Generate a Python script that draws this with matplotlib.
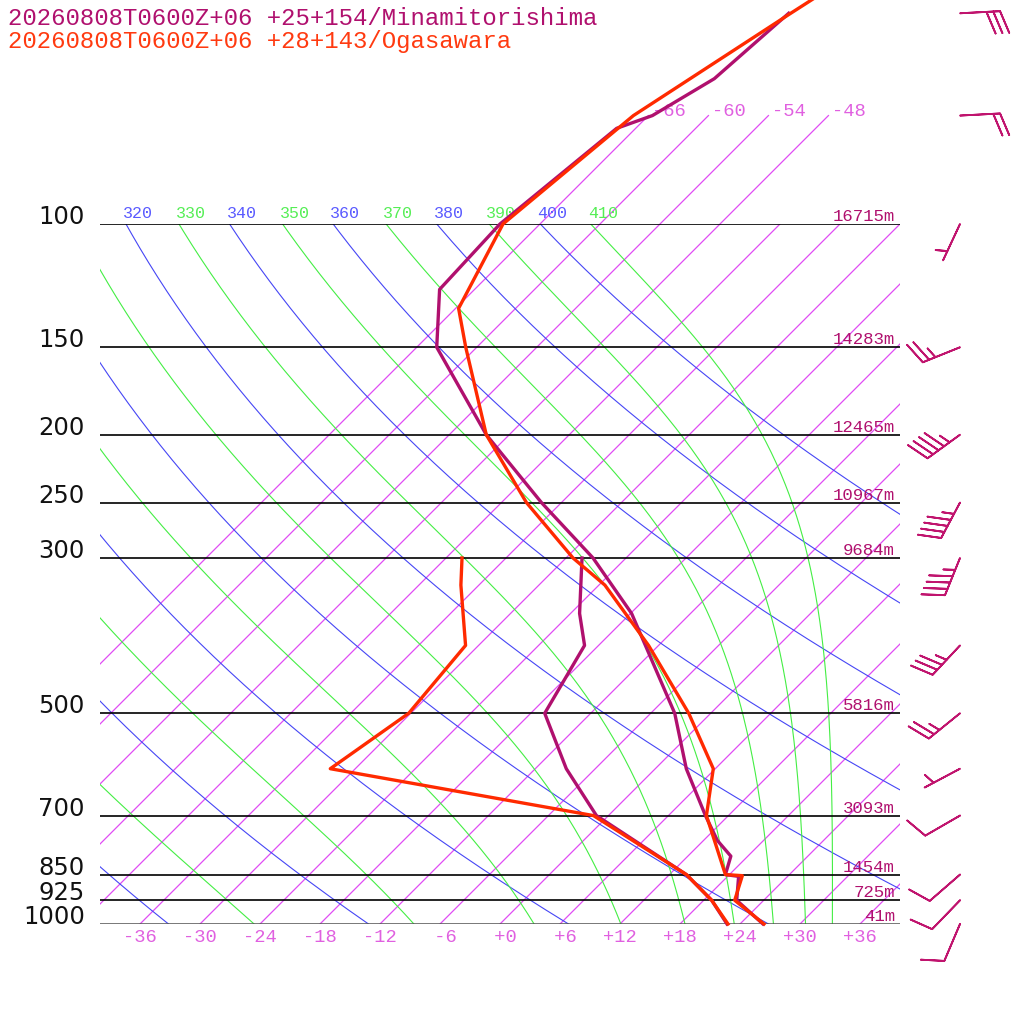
import numpy as np
import matplotlib
matplotlib.use('Agg')
import matplotlib.pyplot as plt
import matplotlib.transforms as mtransforms

# Minamitorishima sounding (purple)
mina_t_p = [1000, 925, 855, 850, 800, 760, 700, 600, 500, 360, 300, 250, 200, 150, 124, 100, 73, 70, 62, 50]
mina_t = [26.3, 21.3, 19.1, 17.6, 16.3, 13.4, 9.7, 3.1, -3.6, -17.9, -27.3, -38.0, -50.3, -64.0, -69.5, -70.0, -67.9, -65.6, -63.1, -62.2]
mina_td_p = [1000, 925, 850, 700, 600, 500, 400, 360, 300]
mina_td = [22.7, 18.8, 13.7, -1.2, -8.9, -16.6, -19.4, -23.1, -28.4]

# Ogasawara sounding (red)
oga_t_p = [1000, 925, 853, 850, 700, 600, 500, 400, 328, 300, 250, 200, 150, 132, 100, 70, 50, 40]
oga_t = [26.4, 21.1, 19.4, 17.6, 9.8, 5.8, -2.2, -13.0, -23.4, -29.3, -39.5, -50.3, -61.1, -65.7, -69.7, -67.5, -62.0, -58.2]
oga_td_p = [1000, 925, 850, 700, 600, 500, 400, 328, 300]
oga_td = [22.8, 18.8, 13.7, -1.5, -32.5, -30.2, -31.3, -37.8, -40.4]

# winds (Minamitorishima), knots
wind_p = [1000, 925, 850, 700, 600, 500, 400, 300, 250, 200, 150, 100, 70, 50]
wind_dir = [203, 224, 229, 240, 242, 231, 223, 202, 208, 234, 248, 205, 87, 87]
wind_spd = [10, 10, 10, 10, 5, 25, 35, 45, 45, 45, 25, 5, 20, 30]

# standard levels and heights
levels = [100, 150, 200, 250, 300, 500, 700, 850, 925, 1000]
heights = [16715, 14283, 12465, 10967, 9684, 5816, 3093, 1454, 725, 41]

isotherms = np.arange(-66, 37, 6)
bottom_labels = np.arange(-36, 37, 6)
top_isotherms = [-66, -60, -54, -48]
dry_thetas = np.arange(240, 401, 20)
moist_thetaes = np.arange(250, 411, 20)

titles = ['20260808T0600Z+06 +25+154/Minamitorishima',
          '20260808T0600Z+06 +28+143/Ogasawara']

purple = '#b0106e'
red = '#ff2a00'
c_iso = '#e04cf4'
c_dry = '#4646f5'
c_moist = '#44ee44'
mono = 'Liberation Mono'


def thetae_sat(t, p):
    tk = t + 273.15
    es = 6.112 * np.exp(17.67 * t / (t + 243.5))
    r = 621.97 * es / (p - es)
    return (tk * (1000.0 / p) ** (0.2854 * (1 - 0.28e-3 * r))
            * np.exp((3.376 / tk - 0.00254) * r * (1 + 0.81e-3 * r)))


def moist_adiabat(te, p):
    lo = np.full(p.shape, -150.0)
    hi = np.full(p.shape, 50.0)
    for _ in range(60):
        mid = 0.5 * (lo + hi)
        big = thetae_sat(mid, p) > te
        hi = np.where(big, mid, hi)
        lo = np.where(big, lo, mid)
    return 0.5 * (lo + hi)


fig = plt.figure(figsize=(10.24, 10.24), dpi=100)
ax = fig.add_axes([100 / 1024, 100 / 1024, 800 / 1024, 700 / 1024])
ax.set_yscale('log')
ax.set_xlim(-40, 40)
ax.set_ylim(1000, 100)
ax.axis('off')

# 45 degree skew in axes space
k = 700 / 800
skew = (ax.transScale + ax.transLimits
        + mtransforms.Affine2D(np.array([[1, k, 0], [0, 1, 0], [0, 0, 1]]))
        + ax.transAxes)
side = mtransforms.blended_transform_factory(ax.transAxes, ax.transData)

pgrid = np.geomspace(1000, 100, 200)


def top_x(t):
    # skewed position at 100 hPa, in axes fraction
    return (t + 40) / 80 + k


for t in isotherms:
    ax.plot([t, t], [1000, 100], color=c_iso, lw=0.9, transform=skew, zorder=1)
for t in bottom_labels:
    ax.text(t, 1000, f'{t:+d}'.rjust(3), transform=mtransforms.offset_copy(skew, fig, y=-5, units='dots'),
            ha='center', va='top', family=mono, fontsize=13.5, color='#e060e0')
for t in top_isotherms:
    ax.plot([t, t], [100, 70], color=c_iso, lw=0.9, transform=skew, zorder=1, clip_on=False)
    ax.text(t, 70, f'{t:+d}', transform=mtransforms.offset_copy(skew, fig, x=4, y=0, units='dots'),
            ha='left', va='baseline', family=mono, fontsize=13.5, color='#e060e0')

for th in dry_thetas:
    tt = th * (pgrid / 1000.0) ** 0.2857 - 273.15
    ax.plot(tt, pgrid, color=c_dry, lw=0.8, transform=skew, zorder=1)
    if top_x(tt[-1]) > 0:
        ax.text(tt[-1], 100, str(th), transform=mtransforms.offset_copy(skew, fig, x=-3, y=6, units='dots'),
                ha='left', va='baseline', family=mono, fontsize=12, color='#5a5aff')

for te in moist_thetaes:
    tt = moist_adiabat(te, pgrid)
    ax.plot(tt, pgrid, color=c_moist, lw=0.8, transform=skew, zorder=1)
    if top_x(tt[-1]) > 0:
        ax.text(tt[-1], 100, str(te), transform=mtransforms.offset_copy(skew, fig, x=-3, y=6, units='dots'),
                ha='left', va='baseline', family=mono, fontsize=12, color='#55ee55')

for p, h in zip(levels, heights):
    if p == 1000:
        ax.axhline(p, color='#505050', lw=1.8, zorder=2)
    else:
        ax.axhline(p, color='black', lw=1.2, zorder=2)
    ax.text(-0.01875, p, str(p), transform=side, ha='right', va='baseline',
            family='DejaVu Sans', fontsize=17.5, color='#111111')
    ax.text(0.99375, p, f'{h}m', transform=mtransforms.offset_copy(side, fig, y=3, units='dots'),
            ha='right', va='baseline', family=mono, fontsize=12.5, color=purple, zorder=5)

# profiles
ax.plot(mina_t, mina_t_p, color=purple, lw=2.4, transform=skew, clip_on=False, zorder=4)
ax.plot(mina_td, mina_td_p, color=purple, lw=2.4, transform=skew, clip_on=False, zorder=4)
ax.plot(oga_t, oga_t_p, color=red, lw=2.4, transform=skew, clip_on=False, zorder=4)
ax.plot(oga_td, oga_td_p, color=red, lw=2.4, transform=skew, clip_on=False, zorder=4)

# wind barbs
wd = np.radians(wind_dir)
u = -np.array(wind_spd) * np.sin(wd)
v = -np.array(wind_spd) * np.cos(wd)
ax.barbs(np.full(len(wind_p), 1.075), wind_p, u, v, transform=side, length=7.6,
         color='#c0146e', linewidth=1.3, clip_on=False, zorder=5,
         sizes=dict(spacing=0.17, height=0.55, width=0.4))

fig.text(8 / 1024, 1 - 25 / 1024, titles[0], va='baseline', ha='left', family=mono, fontsize=17.3, color=purple)
fig.text(8 / 1024, 1 - 48 / 1024, titles[1], va='baseline', ha='left', family=mono, fontsize=17.3, color='#ff3a10')

fig.savefig('out.png', dpi=100, facecolor='white')
